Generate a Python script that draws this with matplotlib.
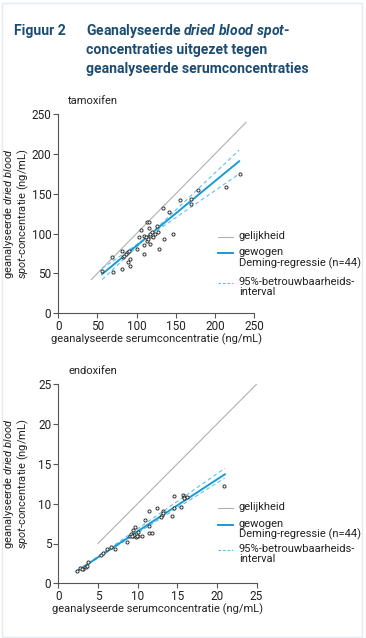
import matplotlib
matplotlib.use("Agg")
import matplotlib.pyplot as plt
import numpy as np
from matplotlib.lines import Line2D
from matplotlib.patches import Rectangle

plt.rcParams['font.family'] = ['Roboto', 'DejaVu Sans']
plt.rcParams['mathtext.fontset'] = 'custom'
plt.rcParams['mathtext.rm'] = 'Roboto'
plt.rcParams['mathtext.it'] = 'Roboto:italic'
plt.rcParams['mathtext.bf'] = 'Roboto:bold'
plt.rcParams['mathtext.bfit'] = 'Roboto:italic:bold'

# ---------------- data ----------------
tam_serum = [56, 68, 70, 81, 82, 82.5, 84, 87, 88.5, 90, 88.5, 92, 92, 100, 103, 106,
             109, 109, 110, 112, 113, 113, 116, 116, 116.7, 117.5, 117.5, 120, 121, 124,
             126, 128, 129, 134, 135.5, 141, 146, 156, 169.7, 169.7, 179, 214, 232, 115]
tam_dbs = [53, 70, 51.5, 55, 78.5, 70, 72, 74, 76.7, 78, 64.5, 67.5, 59.5, 80, 96, 105,
           85.6, 74, 97, 95, 91, 114, 115, 106.6, 97, 99.5, 86.4, 102, 96, 99,
           110, 101.6, 80.5, 131.5, 92.7, 127.7, 99.5, 142, 143, 137.4, 155, 158, 175.4, 93]

endo_serum = [2.4, 2.8, 3.15, 3.45, 3.65, 3.8, 5.4, 5.7, 6.1, 6.6, 7.2, 8.7, 9.0, 9.2,
              9.4, 9.45, 9.6, 9.7, 9.8, 10.1, 10.5, 10.9, 11.5, 11.5, 11.8, 11.4, 12.4,
              13.1, 13.15, 13.2, 14.3, 14.6, 14.6, 15.5, 15.7, 15.8, 16.2, 20.9,
              9.3, 10.0, 13.0, 15.9, 9.9, 3.0]
endo_dbs = [1.6, 1.9, 1.76, 2.0, 2.2, 2.7, 3.56, 3.8, 4.3, 4.6, 4.35, 5.2, 6.0, 6.2,
            6.7, 5.9, 6.1, 7.1, 5.8, 6.0, 6.0, 8.0, 6.3, 7.2, 6.3, 9.1, 9.5,
            8.6, 9.1, 8.8, 8.5, 9.5, 11.0, 9.6, 11.1, 10.9, 10.9, 12.2,
            5.9, 6.4, 8.3, 10.7, 6.0, 1.8]

# regression parameters (slope, intercept), fit range, CI lines, identity range
tam_fit = (0.811, 3.6)
tam_ci = [(0.931, -10.1), (0.68, 17.9)]
tam_range = (56, 231)
tam_identity = (42, 240)

endo_fit = (0.652, 0.0)
endo_ci = [(0.692, -0.09), (0.627, 0.06)]
endo_range = (2.3, 21)
endo_identity = (5, 25)

titles = ['tamoxifen', 'endoxifen']
xticks_list = [[0, 50, 100, 150, 200, 250], [0, 5, 10, 15, 20, 25]]
legend_labels = ['gelijkheid', 'gewogen\nDeming-regressie (n=44)', '95%-betrouwbaarheids-\ninterval']

# ---------------- style ----------------
W, H = 366, 638
fig = plt.figure(figsize=(W / 100, H / 100), dpi=100)
fig.patch.set_facecolor('white')

TITLE_C = '#1b4c72'
BLUE = '#1a9bd7'
LBLUE = '#5cc3ee'
GRAY = '#b0b0b0'
AX_C = '#555555'
TXT = '#222222'


def fy(py):
    return 1 - py / H


def fx(px):
    return px / W


# frame
fig.add_artist(Rectangle((fx(1.5), fy(636.5)), fx(360), 634 / H, transform=fig.transFigure,
                         fill=False, edgecolor='#e3eaf0', linewidth=1))

# title
TS = 10.1
fig.text(fx(14), fy(35), 'Figuur 2', color=TITLE_C, fontsize=TS, fontweight='bold', va='baseline')
fig.text(fx(86), fy(35), r'Geanalyseerde $\mathbfit{dried\ blood\ spot}$-', color=TITLE_C,
         fontsize=TS, fontweight='bold', va='baseline')
fig.text(fx(86), fy(54), 'concentraties uitgezet tegen', color=TITLE_C,
         fontsize=TS, fontweight='bold', va='baseline')
fig.text(fx(86), fy(73), 'geanalyseerde serumconcentraties', color=TITLE_C,
         fontsize=TS, fontweight='bold', va='baseline')

panels = [
    dict(rect=(58.3, 114.3, 254, 313), x=tam_serum, y=tam_dbs, fit=tam_fit, ci=tam_ci,
         rng=tam_range, ident=tam_identity, lim=250,
         leg=[237, 253, 283]),
    dict(rect=(58.3, 384.3, 256.5, 583.3), x=endo_serum, y=endo_dbs, fit=endo_fit, ci=endo_ci,
         rng=endo_range, ident=endo_identity, lim=25,
         leg=[508, 525, 550]),
]

for i, p in enumerate(panels):
    l, t, r, b = p['rect']
    aw = r - l
    ax = fig.add_axes([fx(l), fy(b), aw / W, (b - t) / H])
    ax.set_xlim(0, p['lim'])
    ax.set_ylim(0, p['lim'])
    for s in ['top', 'right']:
        ax.spines[s].set_visible(False)
    for s in ['left', 'bottom']:
        ax.spines[s].set_color(AX_C)
        ax.spines[s].set_linewidth(0.8)
    ax.set_xticks(xticks_list[i])
    ax.set_yticks(xticks_list[i])
    ax.tick_params(axis='both', length=3.5, width=0.8, color=AX_C, labelsize=8.5,
                   labelcolor=TXT, pad=1.5)
    # identity
    xi = np.array(p['ident'])
    ax.plot(xi, xi, color=GRAY, lw=0.8, zorder=2)
    # CI
    xr = np.array(p['rng'])
    for sl, ic in p['ci']:
        ax.plot(xr, sl * xr + ic, color=LBLUE, lw=0.8, ls=(0, (3.5, 2.5)), zorder=3)
    # fit
    sl, ic = p['fit']
    ax.plot(xr, sl * xr + ic, color=BLUE, lw=1.4, zorder=4)
    # points
    ax.scatter(p['x'], p['y'], s=5, marker='o', facecolors='white', edgecolors='#333333',
               linewidths=0.7, zorder=5)
    ax.set_xlabel('geanalyseerde serumconcentratie (ng/mL)', fontsize=8, color=TXT, labelpad=0.5)
    ax.set_ylabel('geanalyseerde $\\mathit{dried\\ blood}$\n$\\mathit{spot}$-concentratie (ng/mL)',
                  fontsize=8, color=TXT, linespacing=0.95)
    ax.yaxis.set_label_coords((31 - l) / aw, 0.5)
    ax.text(0.05, 1.04, titles[i], transform=ax.transAxes, fontsize=8, color=TXT,
            va='bottom', ha='left')

    # legend (manual)
    ly = p['leg']
    styles = [dict(color=GRAY, lw=0.8), dict(color=BLUE, lw=1.4),
              dict(color=LBLUE, lw=0.8, ls=(0, (2.5, 1.5)))]
    for yy, st, lab in zip(ly, styles, legend_labels):
        fig.add_artist(Line2D([fx(218), fx(233)], [fy(yy), fy(yy)], transform=fig.transFigure, **st))
        fig.text(fx(239), fy(yy - 6), lab, fontsize=8, color=TXT, va='top', ha='left',
                 linespacing=1.0, transform=fig.transFigure)

fig.savefig('out.png', dpi=100, facecolor='white')
